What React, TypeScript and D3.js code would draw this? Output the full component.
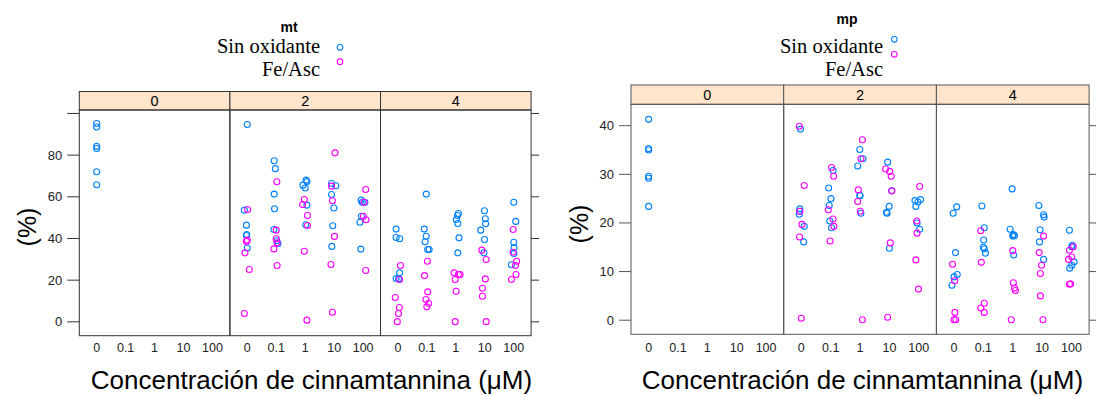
import React, { useRef, useEffect } from 'react';
import * as d3 from 'd3';

// dosis de cinnamtannina (eje x) y niveles de oxidante (paneles)
const doses = ["0", "0.1", "1", "10", "100"];
const levels = ["0", "2", "4"];
const seriesNames = ["Sin oxidante", "Fe/Asc"];
const seriesColors = ["#0080ff", "#ff00ff"];

// [nivel, dosis, valor (%), jitter en unidades de categoria]
type Pt = [string, string, number, number];

const mtSinOxidante: Pt[] = [
  ["0", "0", 95.2, 0], ["0", "0", 93.5, 0], ["0", "0", 84.2, 0], ["0", "0", 83.2, 0], ["0", "0", 72, 0], ["0", "0", 65.8, 0],
  ["2", "0", 94.7, 0], ["2", "0", 53.6, -0.1], ["2", "0", 46.4, -0.03], ["2", "0", 41.9, -0.02], ["2", "0", 41.4, -0.03], ["2", "0", 35.4, 0],
  ["2", "0.1", 77.3, -0.07], ["2", "0.1", 73.5, -0.03], ["2", "0.1", 61.3, -0.07], ["2", "0.1", 54.3, -0.06], ["2", "0.1", 44.3, -0.08], ["2", "0.1", 38.9, 0.02], ["2", "0.1", 37.6, 0.06],
  ["2", "1", 68.0, 0.03], ["2", "1", 67.3, 0.06], ["2", "1", 65.6, -0.08], ["2", "1", 64.2, 0], ["2", "1", 56.0, 0.06], ["2", "1", 46.6, 0.02],
  ["2", "10", 66.4, -0.09], ["2", "10", 65.3, 0.06], ["2", "10", 61.1, -0.09], ["2", "10", 54.6, -0.01], ["2", "10", 46.1, -0.05], ["2", "10", 36.2, -0.08],
  ["2", "100", 58.4, -0.07], ["2", "100", 57.4, -0.03], ["2", "100", 57.4, 0.06], ["2", "100", 50.7, -0.06], ["2", "100", 47.8, -0.11], ["2", "100", 34.9, -0.08],
  ["4", "0", 44.5, -0.06], ["4", "0", 40.5, -0.06], ["4", "0", 39.9, 0.06], ["4", "0", 23.5, 0.06], ["4", "0", 20.8, -0.06], ["4", "0", 20.6, 0.02],
  ["4", "0.1", 61.3, -0.02], ["4", "0.1", 44.5, -0.09], ["4", "0.1", 41.1, -0.02], ["4", "0.1", 38.4, -0.06], ["4", "0.1", 34.7, 0.03], ["4", "0.1", 34.7, 0.08],
  ["4", "1", 52.0, 0.09], ["4", "1", 51.0, 0.06], ["4", "1", 49.1, 0.02], ["4", "1", 47.2, 0.07], ["4", "1", 40.3, 0.11], ["4", "1", 33.1, 0.07],
  ["4", "10", 53.3, -0.01], ["4", "10", 49.5, 0.02], ["4", "10", 47.1, 0.03], ["4", "10", 44.0, -0.14], ["4", "10", 39.5, -0.01], ["4", "10", 33.1, -0.03],
  ["4", "100", 57.4, 0], ["4", "100", 48.2, 0.07], ["4", "100", 38.2, 0], ["4", "100", 35.5, 0.01], ["4", "100", 32.8, 0.01], ["4", "100", 27.4, -0.08],
];

const mtFeAsc: Pt[] = [
  ["2", "0", 53.9, 0.01], ["2", "0", 39.2, 0], ["2", "0", 38.6, -0.03], ["2", "0", 33.1, -0.08], ["2", "0", 25.1, 0.07], ["2", "0", 4.0, -0.1],
  ["2", "0.1", 67.2, 0.02], ["2", "0.1", 44.0, 0], ["2", "0.1", 39.9, 0], ["2", "0.1", 37.9, 0.03], ["2", "0.1", 35.0, -0.08], ["2", "0.1", 27.0, 0.03],
  ["2", "1", 58.7, -0.03], ["2", "1", 56.3, -0.09], ["2", "1", 51.0, 0.08], ["2", "1", 46.2, 0.08], ["2", "1", 33.9, -0.03], ["2", "1", 0.8, 0.06],
  ["2", "10", 81.1, 0.03], ["2", "10", 65.1, -0.09], ["2", "10", 58.1, -0.06], ["2", "10", 41.0, 0.01], ["2", "10", 27.5, -0.11], ["2", "10", 4.6, -0.06],
  ["2", "100", 63.5, 0.09], ["2", "100", 57.4, 0.03], ["2", "100", 50.7, 0.01], ["2", "100", 49.0, 0.1], ["2", "100", 24.6, 0.09],
  ["4", "0", 27.0, 0.09], ["4", "0", 20.3, 0.06], ["4", "0", 11.7, -0.09], ["4", "0", 6.9, 0.05], ["4", "0", 4.0, 0.02], ["4", "0", 0.1, -0.02],
  ["4", "0.1", 29.1, 0.02], ["4", "0.1", 22.2, -0.08], ["4", "0.1", 14.4, 0.03], ["4", "0.1", 10.7, -0.03], ["4", "0.1", 8.9, 0.06], ["4", "0.1", 7.2, 0],
  ["4", "1", 23.5, -0.06], ["4", "1", 22.7, 0.09], ["4", "1", 22.7, 0.15], ["4", "1", 20.3, -0.02], ["4", "1", 14.7, 0.01], ["4", "1", 0.1, -0.02],
  ["4", "10", 34.4, -0.1], ["4", "10", 29.9, 0.05], ["4", "10", 20.6, 0.02], ["4", "10", 16.1, -0.08], ["4", "10", 12.3, -0.08], ["4", "10", 0.1, 0.05],
  ["4", "100", 44.3, -0.02], ["4", "100", 33.4, -0.02], ["4", "100", 29.1, 0.1], ["4", "100", 27.0, 0.06], ["4", "100", 22.7, 0.08], ["4", "100", 20.3, -0.08],
];

const mpSinOxidante: Pt[] = [
  ["0", "0", 41.3, 0], ["0", "0", 35.3, 0], ["0", "0", 35.0, 0], ["0", "0", 29.6, 0], ["0", "0", 29.2, 0], ["0", "0", 23.4, 0],
  ["2", "0", 39.3, -0.03], ["2", "0", 22.9, -0.05], ["2", "0", 22.4, -0.06], ["2", "0", 21.8, -0.07], ["2", "0", 19.3, 0.1], ["2", "0", 16.1, 0.08],
  ["2", "0.1", 30.8, 0.08], ["2", "0.1", 27.2, -0.07], ["2", "0.1", 25.0, 0.01], ["2", "0.1", 23.6, -0.05], ["2", "0.1", 20.4, -0.03], ["2", "0.1", 19.0, 0.03],
  ["2", "1", 35.1, -0.01], ["2", "1", 33.2, 0.1], ["2", "1", 31.7, -0.08], ["2", "1", 25.7, -0.01], ["2", "1", 25.6, 0], ["2", "1", 22.0, 0.03],
  ["2", "10", 32.5, -0.06], ["2", "10", 26.6, 0.08], ["2", "10", 23.4, -0.01], ["2", "10", 22.2, -0.1], ["2", "10", 22.0, -0.08], ["2", "10", 14.8, 0],
  ["2", "100", 24.8, 0.06], ["2", "100", 24.6, -0.13], ["2", "100", 24.3, -0.03], ["2", "100", 23.4, -0.1], ["2", "100", 20.0, -0.06], ["2", "100", 18.7, 0.03],
  ["4", "0", 23.3, 0.09], ["4", "0", 22.0, -0.03], ["4", "0", 13.9, 0.05], ["4", "0", 9.4, 0.11], ["4", "0", 8.9, 0], ["4", "0", 7.2, -0.07],
  ["4", "0.1", 23.5, -0.05], ["4", "0.1", 19.0, 0.03], ["4", "0.1", 16.5, 0.01], ["4", "0.1", 15.0, 0], ["4", "0.1", 14.7, 0.03], ["4", "0.1", 13.8, 0.07],
  ["4", "1", 27.0, -0.02], ["4", "1", 18.7, -0.09], ["4", "1", 17.6, 0.02], ["4", "1", 17.3, 0], ["4", "1", 17.4, 0.06], ["4", "1", 13.4, 0.03],
  ["4", "10", 23.6, -0.11], ["4", "10", 21.7, 0.05], ["4", "10", 21.2, 0.07], ["4", "10", 18.6, -0.07], ["4", "10", 16.1, -0.09], ["4", "10", 12.5, 0.05],
  ["4", "100", 18.5, -0.07], ["4", "100", 15.4, 0.03], ["4", "100", 15.1, 0.01], ["4", "100", 12.0, 0.09], ["4", "100", 11.3, 0.01], ["4", "100", 10.7, -0.06],
];

const mpFeAsc: Pt[] = [
  ["2", "0", 39.9, -0.07], ["2", "0", 27.7, 0.1], ["2", "0", 22.4, -0.05], ["2", "0", 19.7, 0.02], ["2", "0", 17.1, -0.06], ["2", "0", 0.4, 0],
  ["2", "0.1", 31.4, 0.03], ["2", "0.1", 29.6, 0.1], ["2", "0.1", 22.7, -0.08], ["2", "0.1", 20.8, 0.08], ["2", "0.1", 19.3, 0.11], ["2", "0.1", 16.3, -0.02],
  ["2", "1", 37.1, 0.08], ["2", "1", 33.2, 0.03], ["2", "1", 26.8, -0.06], ["2", "1", 24.4, -0.08], ["2", "1", 22.4, 0.01], ["2", "1", 0.1, 0.08],
  ["2", "10", 31.1, -0.13], ["2", "10", 30.6, 0.01], ["2", "10", 29.6, 0.06], ["2", "10", 26.6, 0.08], ["2", "10", 15.9, 0.03], ["2", "10", 0.6, -0.06],
  ["2", "100", 27.5, 0.03], ["2", "100", 20.4, -0.07], ["2", "100", 17.9, -0.06], ["2", "100", 12.4, -0.1], ["2", "100", 6.4, -0.01],
  ["4", "0", 11.5, -0.05], ["4", "0", 8.1, 0.02], ["4", "0", 1.6, 0.03], ["4", "0", 0.1, 0], ["4", "0", 0.1, 0.06],
  ["4", "0.1", 18.4, -0.09], ["4", "0.1", 11.9, -0.07], ["4", "0.1", 3.5, 0.03], ["4", "0.1", 2.5, -0.09], ["4", "0.1", 1.6, 0.03],
  ["4", "1", 14.3, 0], ["4", "1", 7.7, 0.02], ["4", "1", 6.6, 0.06], ["4", "1", 6.1, 0.09], ["4", "1", 0.1, -0.05],
  ["4", "10", 17.3, 0.05], ["4", "10", 13.9, -0.1], ["4", "10", 11.3, -0.02], ["4", "10", 9.6, -0.06], ["4", "10", 5.0, -0.06], ["4", "10", 0.1, 0.03],
  ["4", "100", 15.1, 0.06], ["4", "100", 14.4, -0.07], ["4", "100", 13.0, 0.01], ["4", "100", 12.5, -0.1], ["4", "100", 7.4, -0.07], ["4", "100", 7.5, -0.03],
];

const mtTicks = [0, 20, 40, 60, 80, 100];
const mtTickLabels = ["0", "20", "40", "60", "80", ""];
const mpTicks = [0, 10, 20, 30, 40];
const mpTickLabels = ["0", "10", "20", "30", "40"];

const xTitle = "Concentración de cinnamtannina (μM)";
const yTitle = "(%)";

interface Layout {
  title: string;
  series: Pt[][];
  ticks: number[];
  tickLabels: string[];
  yDomain: [number, number];
  left: number;
  panelW: number;
  stripTop: number;
  plotTop: number;
  bottom: number;
  frame: string;
  legX: number; // borde derecho del texto de la leyenda
  legTitleX: number;
  legTitleY: number;
  legSymX: number;
  legSymY: number[];
  xTitleX: number;
  yTitleY: number;
}

const charts: Layout[] = [
  {
    title: "mt", series: [mtSinOxidante, mtFeAsc], ticks: mtTicks, tickLabels: mtTickLabels,
    yDomain: [-6.65, 101.65], left: 79.3, panelW: 150.6, stripTop: 91.5, plotTop: 110, bottom: 335.7,
    frame: "#333", legX: 320, legTitleX: 289, legTitleY: 31.5, legSymX: 340, legSymY: [47.3, 61.7],
    xTitleX: 311.5, yTitleY: 227,
  },
  {
    title: "mp", series: [mpSinOxidante, mpFeAsc], ticks: mpTicks, tickLabels: mpTickLabels,
    yDomain: [-2.9, 44.4], left: 631, panelW: 152.7, stripTop: 85, plotTop: 104.3, bottom: 334.3,
    frame: "#555", legX: 883, legTitleX: 847, legTitleY: 24, legSymX: 894.3, legSymY: [39.3, 54.3],
    xTitleX: 862.5, yTitleY: 224,
  },
];

const SANS = "'Liberation Sans', Arial, sans-serif";
const SERIF = "'Liberation Serif', 'Times New Roman', serif";

export default function App() {
  const svgRef = useRef<SVGSVGElement>(null);

  useEffect(() => {
    const svg = d3.select(svgRef.current);
    svg.selectAll("*").remove();

    charts.forEach(c => {
      const g = svg.append("g");
      const y = d3.scaleLinear().domain(c.yDomain).range([c.bottom, c.plotTop]);
      const right = c.left + c.panelW * levels.length;

      // leyenda
      g.append("text")
        .attr("x", c.legTitleX).attr("y", c.legTitleY)
        .attr("text-anchor", "middle")
        .style("font-family", SANS).style("font-weight", "bold").style("font-size", "14px")
        .text(c.title);
      seriesNames.forEach((name, i) => {
        g.append("text")
          .attr("x", c.legX).attr("y", 52.5 + i * 23.5)
          .attr("text-anchor", "end")
          .style("font-family", SERIF).style("font-size", "20.5px")
          .text(name);
        g.append("circle")
          .attr("cx", c.legSymX).attr("cy", c.legSymY[i]).attr("r", 2.8)
          .attr("fill", "none").attr("stroke", seriesColors[i]).attr("stroke-width", 1.1);
      });

      // paneles
      levels.forEach((lev, pi) => {
        const x0 = c.left + pi * c.panelW;
        const x = d3.scalePoint<string>().domain(doses).range([x0, x0 + c.panelW]).padding(0.6);
        const step = x.step();

        // strip
        g.append("rect")
          .attr("x", x0).attr("y", c.stripTop)
          .attr("width", c.panelW).attr("height", c.plotTop - c.stripTop)
          .attr("fill", "#ffe5cc").attr("stroke", c.frame).attr("stroke-width", 1);
        g.append("text")
          .attr("x", x0 + c.panelW / 2).attr("y", c.plotTop - 4.2)
          .attr("text-anchor", "middle")
          .style("font-family", SANS).style("font-size", "14.5px")
          .text(lev);

        // marco del panel
        g.append("rect")
          .attr("x", x0).attr("y", c.plotTop)
          .attr("width", c.panelW).attr("height", c.bottom - c.plotTop)
          .attr("fill", "none").attr("stroke", c.frame).attr("stroke-width", 1);

        // etiquetas del eje x
        doses.forEach(d => {
          g.append("text")
            .attr("x", x(d)!).attr("y", 352)
            .attr("text-anchor", "middle")
            .style("font-family", SANS).style("font-size", "12.5px")
            .attr("fill", "#222")
            .text(d);
        });

        // puntos
        c.series.forEach((pts, si) => {
          g.selectAll(null)
            .data(pts.filter(p => p[0] === lev))
            .join("circle")
            .attr("cx", p => x(p[1])! + p[3] * step)
            .attr("cy", p => y(p[2]))
            .attr("r", 3)
            .attr("fill", "none")
            .attr("stroke", seriesColors[si])
            .attr("stroke-width", 1.1);
        });
      });

      // eje y: ticks a ambos lados, etiquetas a la izquierda
      c.ticks.forEach((t, i) => {
        g.append("line")
          .attr("x1", c.left - 12).attr("x2", c.left)
          .attr("y1", y(t)).attr("y2", y(t))
          .attr("stroke", c.frame).attr("stroke-width", 1);
        g.append("line")
          .attr("x1", right).attr("x2", right + 8)
          .attr("y1", y(t)).attr("y2", y(t))
          .attr("stroke", c.frame).attr("stroke-width", 1);
        g.append("text")
          .attr("x", c.left - 17).attr("y", y(t))
          .attr("dy", "0.35em")
          .attr("text-anchor", "end")
          .style("font-family", SANS).style("font-size", "13px")
          .attr("fill", "#222")
          .text(c.tickLabels[i]);
      });

      // titulos de ejes
      g.append("text")
        .attr("x", c.xTitleX).attr("y", 389)
        .attr("text-anchor", "middle")
        .style("font-family", SANS).style("font-size", "26px")
        .text(xTitle);
      g.append("text")
        .attr("transform", `translate(${c.left - 52},${c.yTitleY}) rotate(-90)`)
        .attr("text-anchor", "middle")
        .attr("dy", "0.35em")
        .style("font-family", SANS).style("font-size", "25px")
        .text(yTitle);
    });
  }, []);

  return (
    <svg
      ref={svgRef}
      width={1096}
      height={396}
      style={{ position: "absolute", left: 0, top: 0, background: "#fff" }}
    />
  );
}
